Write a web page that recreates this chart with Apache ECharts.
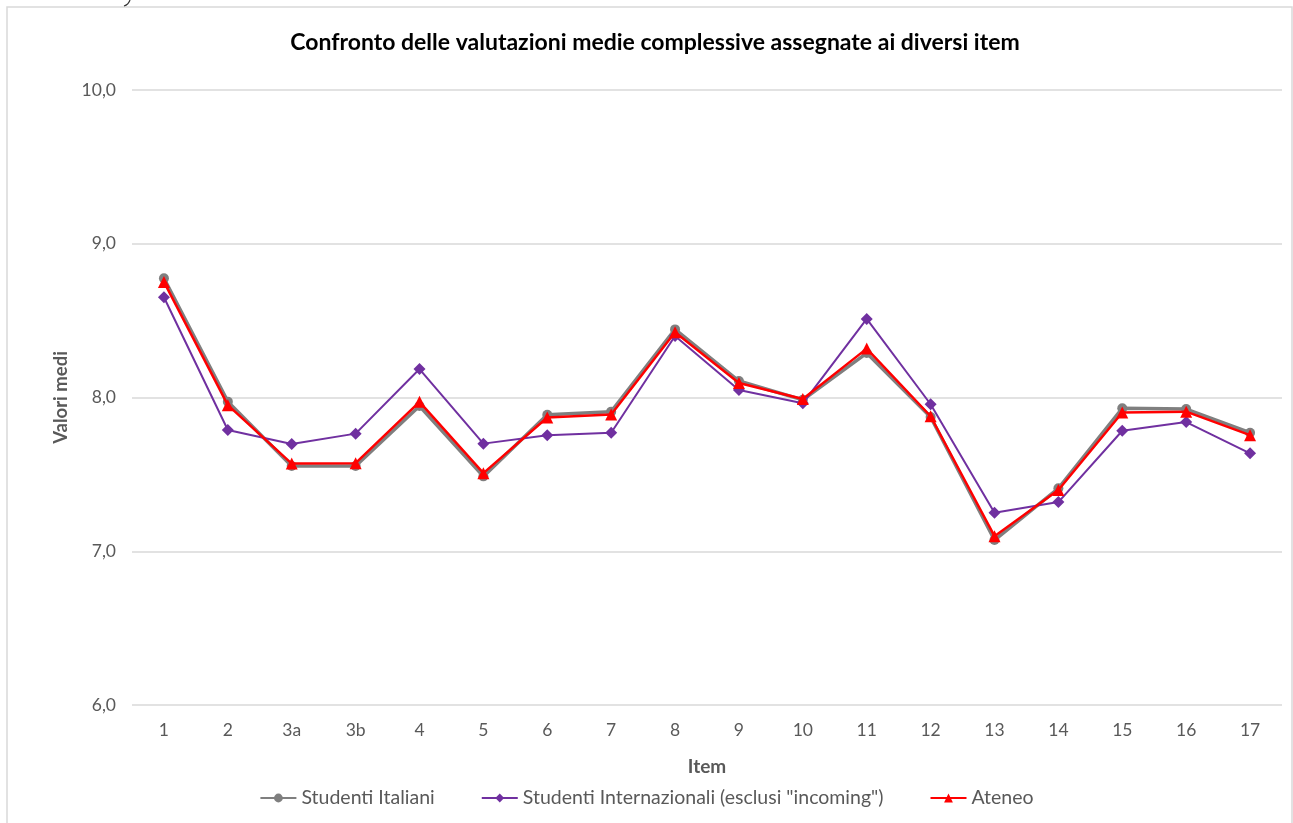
<!DOCTYPE html>
<html><head><meta charset="utf-8">
<script src="https://cdn.jsdelivr.net/npm/echarts@6/dist/echarts.min.js"></script>
<style>html,body{margin:0;padding:0;background:#fff}#c{width:1293px;height:823px}</style>
</head><body><div id="c"></div>
<script>
const categories = ['1','2','3a','3b','4','5','6','7','8','9','10','11','12','13','14','15','16','17'];
const italiani = [8.775,7.973,7.554,7.554,7.945,7.487,7.888,7.908,8.443,8.107,7.985,8.289,7.873,7.073,7.409,7.930,7.925,7.771];
const internazionali = [8.652,7.789,7.698,7.765,8.185,7.700,7.754,7.771,8.400,8.049,7.962,8.511,7.956,7.251,7.320,7.784,7.840,7.637];
const ateneo = [8.752,7.950,7.570,7.573,7.972,7.508,7.870,7.890,8.424,8.094,7.990,8.318,7.878,7.098,7.398,7.902,7.908,7.755];
const yTicks = [6,7,8,9,10];

const font = 'Lato, "Open Sans", sans-serif';
const chart = echarts.init(document.getElementById('c'));
chart.setOption({
  animation:false,
  backgroundColor:'#fff',
  textStyle:{fontFamily:font},
  title:{text:'Confronto delle valutazioni medie complessive assegnate ai diversi item',left:650,top:26,textAlign:'center',
    textStyle:{fontSize:23,fontWeight:'bold',color:'#000',fontFamily:font}},
  grid:{left:132,right:11,top:90,bottom:118},
  legend:{bottom:10,left:'center',itemGap:46,itemWidth:36,itemHeight:11,
    textStyle:{fontSize:19.5,color:'#595959',fontFamily:font},
    data:['Studenti Italiani','Studenti Internazionali (esclusi "incoming")','Ateneo']},
  xAxis:{type:'category',data:categories,boundaryGap:true,
    name:'Item',nameLocation:'middle',nameGap:52,
    nameTextStyle:{fontSize:19,fontWeight:'bold',color:'#595959',fontFamily:font},
    axisLine:{show:false},axisTick:{show:false},
    axisLabel:{fontSize:17.5,color:'#595959',margin:16,fontFamily:font}},
  yAxis:{type:'value',min:yTicks[0],max:yTicks[yTicks.length-1],interval:1,
    name:'Valori medi',nameLocation:'middle',nameGap:57,nameRotate:90,
    nameTextStyle:{fontSize:18.5,fontWeight:'bold',color:'#595959',fontFamily:font},
    axisLine:{show:false},axisTick:{show:false},
    splitLine:{lineStyle:{color:'#d9d9d9',width:1.5}},
    axisLabel:{fontSize:17.5,color:'#595959',margin:16,fontFamily:font,
      formatter:v=>v.toFixed(1).replace('.',',')}},
  series:[
    {name:'Studenti Italiani',type:'line',data:italiani,symbol:'circle',symbolSize:10,
      lineStyle:{color:'#7f7f7f',width:3.5},itemStyle:{color:'#7f7f7f'},z:2},
    {name:'Studenti Internazionali (esclusi "incoming")',type:'line',data:internazionali,symbol:'diamond',symbolSize:12,
      lineStyle:{color:'#7030a0',width:2},itemStyle:{color:'#7030a0'},z:3},
    {name:'Ateneo',type:'line',data:ateneo,symbol:'triangle',symbolSize:12,
      lineStyle:{color:'#ff0000',width:2.5},itemStyle:{color:'#ff0000'},z:4}
  ],
  graphic:[
    {type:'rect',shape:{x:7,y:7,width:1285,height:830},style:{fill:'none',stroke:'#d9d9d9',lineWidth:1.5},silent:true,z:-1},
    {type:'bezierCurve',shape:{x1:124,y1:6,x2:130,y2:0,cpx1:127,cpy1:5,cpx2:129,cpy2:3},style:{stroke:'#333',lineWidth:1.2,fill:'none'}}
  ]
});
</script></body></html>
